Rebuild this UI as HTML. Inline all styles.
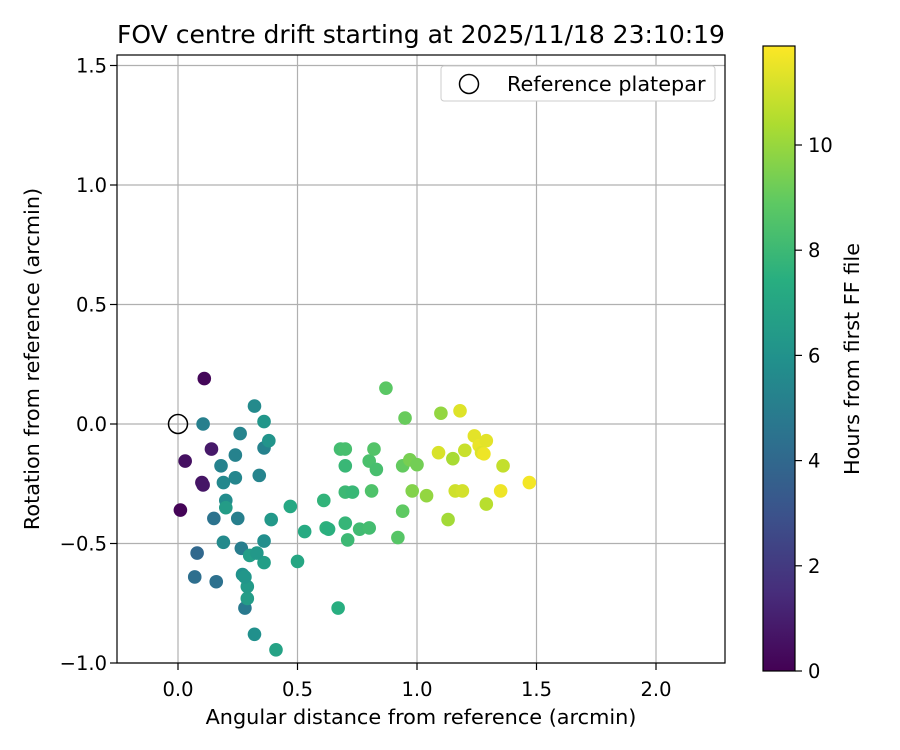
<!DOCTYPE html>
<html><head><meta charset="utf-8"><style>
body{margin:0;background:#fff;}
svg{display:block;font-family:"DejaVu Sans","Liberation Sans",sans-serif;}
</style></head><body>
<svg id="chart" width="900" height="750" xmlns="http://www.w3.org/2000/svg">
<defs>
<linearGradient id="vir" x1="0" y1="1" x2="0" y2="0">
<stop offset="0" stop-color="#440154"/><stop offset="0.125" stop-color="#472d7b"/><stop offset="0.25" stop-color="#3b528b"/><stop offset="0.375" stop-color="#2c728e"/><stop offset="0.5" stop-color="#21918c"/><stop offset="0.625" stop-color="#28ae80"/><stop offset="0.75" stop-color="#5ec962"/><stop offset="0.875" stop-color="#addc30"/><stop offset="1" stop-color="#fde725"/>
</linearGradient>
</defs>
<text x="421" y="43" text-anchor="middle" font-size="25">FOV centre drift starting at 2025/11/18 23:10:19</text>
<g id="grid"></g>
<g id="points"></g>
<rect x="117" y="55" width="608" height="608" fill="none" stroke="#000" stroke-width="1.2"/>
<g id="ticks"></g>
<text x="421" y="724" text-anchor="middle" font-size="20.8">Angular distance from reference (arcmin)</text>
<text transform="translate(39,359) rotate(-90)" text-anchor="middle" font-size="20.8">Rotation from reference (arcmin)</text>
<g>
<rect x="441" y="66" width="274" height="35" rx="3" fill="#fff" stroke="#ccc"/>
<circle cx="469" cy="84" r="9.5" fill="none" stroke="#000" stroke-width="1.5"/>
<text x="507" y="91" font-size="20.8">Reference platepar</text>
</g>
<rect x="763" y="46" width="32" height="625" fill="url(#vir)" stroke="#000" stroke-width="1.2"/>
<g id="cbticks"></g>
<text transform="translate(859,359) rotate(-90)" text-anchor="middle" font-size="20.8">Hours from first FF file</text>
</svg>
<script>
const xs=[0.11,0.03,0.10,0.105,0.01,0.14, 0.07,0.08,0.16,0.15, 0.105,0.18,0.26,0.24,0.25,0.265,0.28,0.19,0.19,0.2,0.24,0.34,0.32,0.36, 0.36,0.38,0.39,0.36,0.36,0.32,0.41,0.29,0.29,0.3,0.33,0.27,0.28,0.5,0.2,0.47,0.53, 0.61,0.62,0.63,0.67,0.68,0.70,0.70,0.70,0.70,0.71,0.73,0.76,0.80,0.80,0.81,0.82,0.83,0.87,0.92,0.94,0.94, 0.95,0.97,0.98,1.0,1.04,1.10,1.13,1.15, 1.09,1.16,1.18,1.19,1.20,1.24,1.26,1.27,1.28,1.29,1.29,1.35,1.36,1.47];
const ys=[0.19,-0.155,-0.245,-0.255,-0.36,-0.105, -0.64,-0.54,-0.66,-0.395, 0.0,-0.175,-0.04,-0.13,-0.395,-0.52,-0.77,-0.245,-0.495,-0.32,-0.225,-0.215,0.075,-0.10, 0.01,-0.07,-0.40,-0.49,-0.58,-0.88,-0.945,-0.73,-0.68,-0.55,-0.54,-0.63,-0.64,-0.575,-0.35,-0.345,-0.45, -0.32,-0.435,-0.44,-0.77,-0.105,-0.105,-0.175,-0.285,-0.415,-0.485,-0.285,-0.44,-0.435,-0.155,-0.28,-0.105,-0.19,0.15,-0.475,-0.365,-0.175, 0.025,-0.15,-0.28,-0.17,-0.30,0.045,-0.40,-0.145, -0.12,-0.28,0.055,-0.28,-0.11,-0.05,-0.09,-0.12,-0.125,-0.07,-0.335,-0.28,-0.175,-0.245];
const hours=[0.2,0.5,0.6,0.7,0.1,0.8, 4.3,4.0,4.4,4.5, 5.1,5.2,5.3,5.2,5.1,5.0,4.8,5.5,5.6,5.7,5.4,5.3,5.6,5.2, 6.2,6.1,6.3,5.8,6.6,5.9,6.8,6.5,6.4,6.6,6.3,6.0,6.2,7.0,6.5,7.1,7.2, 7.7,7.6,7.5,7.4,8.2,8.3,7.9,8.0,7.8,8.0,7.9,8.1,8.2,8.4,8.5,8.6,8.3,8.8,8.7,8.9,9.0, 9.1,9.4,9.6,9.3,9.9,9.9,10.2,10.3, 11.2,11.0,11.3,11.1,10.9,11.4,11.5,11.3,11.6,11.4,10.6,11.6,10.8,11.7];
const xTicks=[0,0.5,1,1.5,2];
const yTicks=[-1,-0.5,0,0.5,1,1.5];
const cTicks=[0,2,4,6,8,10];
const xTickLabels=["0.0","0.5","1.0","1.5","2.0"];
const yTickLabels=["\u22121.0","\u22120.5","0.0","0.5","1.0","1.5"];

const X=v=>178+239*v, Y=v=>424-239*v, C=h=>671-52.6*h;
const NS="http://www.w3.org/2000/svg";
function mk(tag,attrs,parent,text){const e=document.createElementNS(NS,tag);for(const k in attrs)e.setAttribute(k,attrs[k]);if(text!==undefined)e.textContent=text;document.getElementById(parent).appendChild(e);return e;}
const stops=[[0,[68,1,84]],[0.125,[71,45,123]],[0.25,[59,82,139]],[0.375,[44,114,142]],[0.5,[33,145,140]],[0.625,[40,174,128]],[0.75,[94,201,98]],[0.875,[173,220,48]],[1,[253,231,37]]];
function vir(t){t=Math.max(0,Math.min(1,t));for(let i=1;i<stops.length;i++){if(t<=stops[i][0]){const a=stops[i-1],b=stops[i],f=(t-a[0])/(b[0]-a[0]);return "rgb("+a[1].map((v,j)=>Math.round(v+(b[1][j]-v)*f)).join(",")+")";}}return "rgb(253,231,37)";}
const hmax=11.88;
xTicks.forEach((v,i)=>{
 const g=mk('line',{x1:X(v),x2:X(v),y1:55,y2:663,stroke:'#b0b0b0','stroke-width':1.2},'grid');
 
 
 const t=mk('line',{x1:X(v),x2:X(v),y1:663,y2:670,stroke:'#000','stroke-width':1.2},'ticks');
 
 
 const l=mk('text',{x:X(v),y:696,'text-anchor':'middle','font-size':19.5},'ticks',xTickLabels[i]);
 
 
});
yTicks.forEach((v,i)=>{
 const g=mk('line',{x1:117,x2:725,y1:Y(v),y2:Y(v),stroke:'#b0b0b0','stroke-width':1.2},'grid');
 
 
 const t=mk('line',{x1:110,x2:117,y1:Y(v),y2:Y(v),stroke:'#000','stroke-width':1.2},'ticks');
 
 
 const l=mk('text',{x:107,y:Y(v)+7,'text-anchor':'end','font-size':19.5},'ticks',yTickLabels[i]);
 
 
});
cTicks.forEach(v=>{
 const t=mk('line',{x1:795,x2:802,y1:C(v),y2:C(v),stroke:'#000','stroke-width':1.2},'cbticks');
 
 
 const l=mk('text',{x:808,y:C(v)+7,'font-size':19.5},'cbticks',String(v));
 
 
});
xs.forEach((x,i)=>{
 const c=mk('circle',{cx:X(x),cy:Y(ys[i]),r:6.8,fill:vir(hours[i]/hmax)},'points');
 
 
});
const r=mk('circle',{cx:X(0),cy:Y(0),r:9.5,fill:'none',stroke:'#000','stroke-width':1.5},'points');


</script>
</body></html>
